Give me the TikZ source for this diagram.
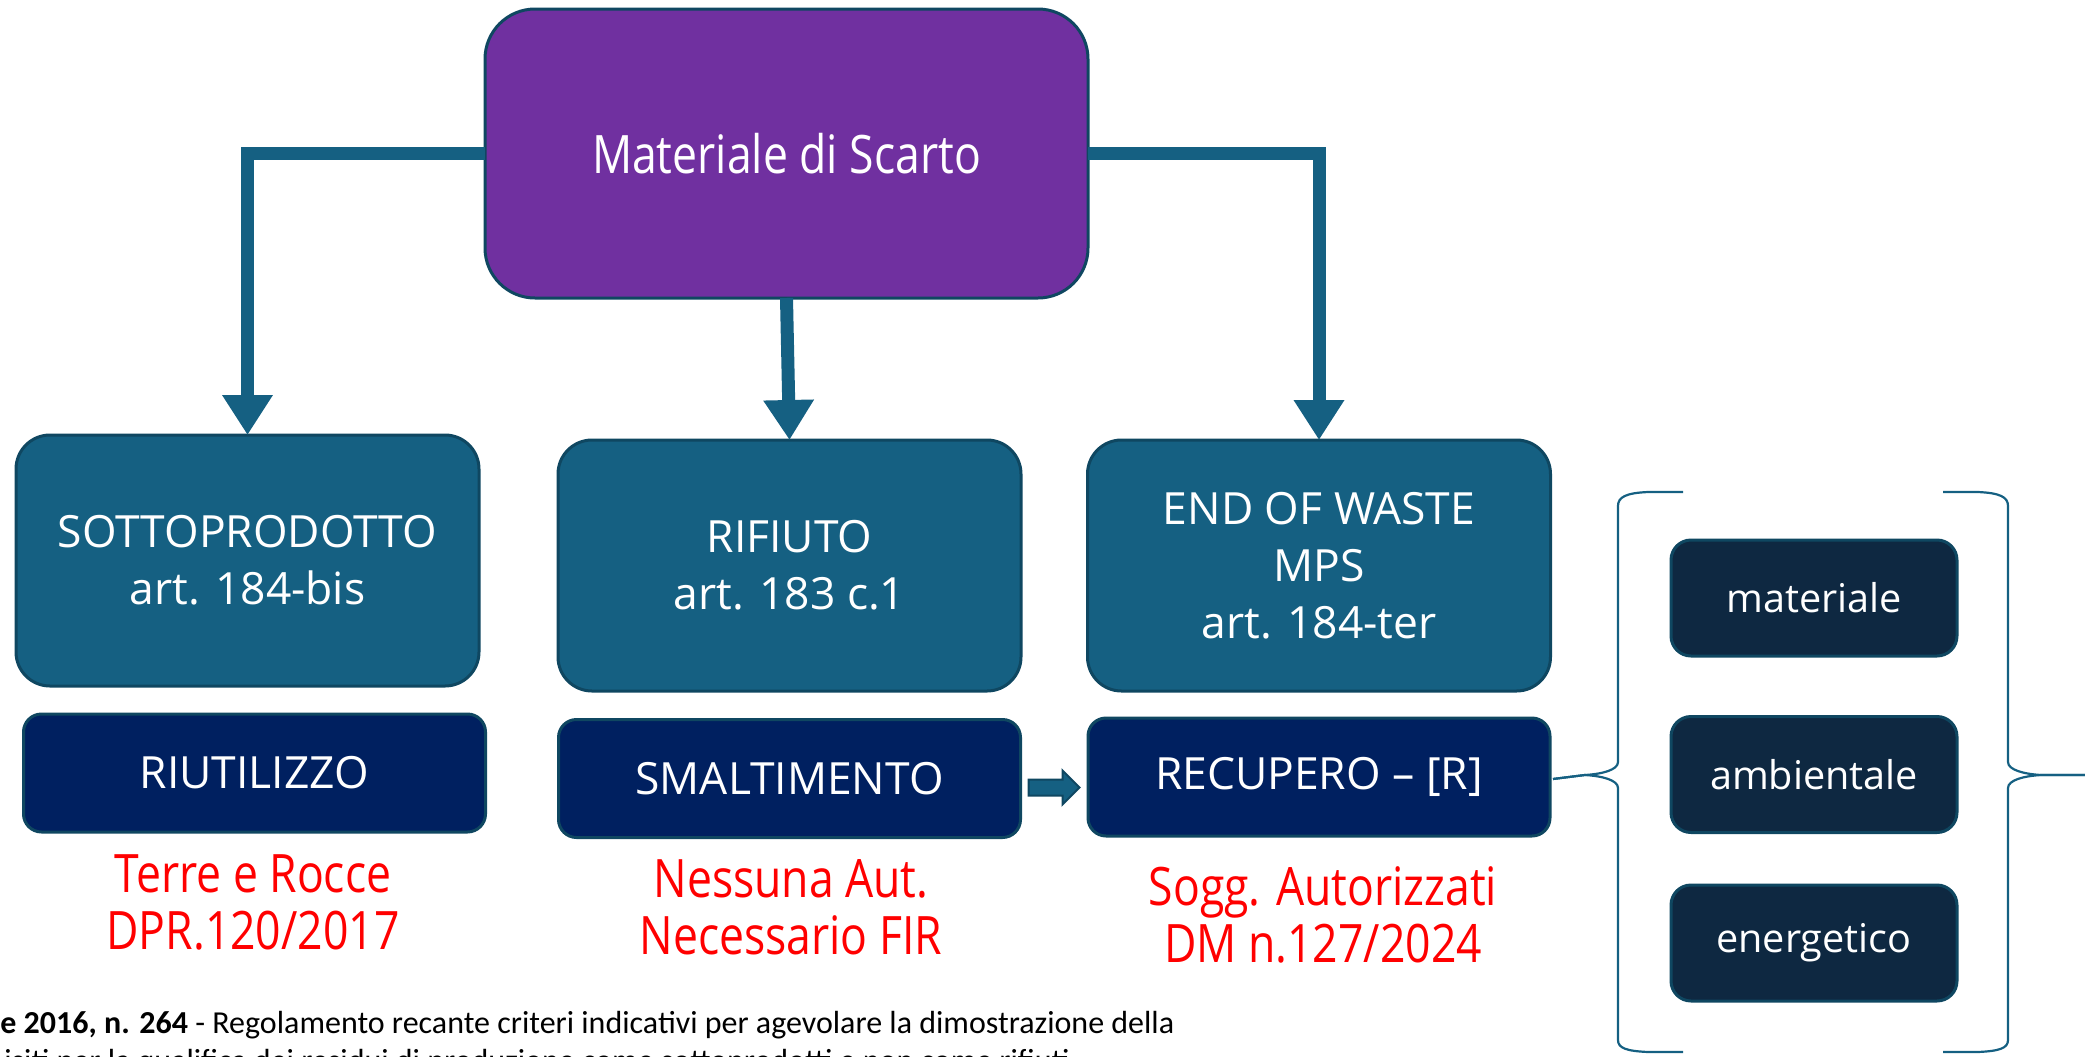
\documentclass[tikz,border=0pt]{standalone}
\usepackage{fontspec}
\setmainfont{Open Sans}
\newfontfamily\calfont{Carlito}
\newfontfamily\narrowfont[FakeStretch=0.84]{Open Sans}
\usetikzlibrary{arrows.meta}
\definecolor{accA}{HTML}{156082}
\definecolor{accDark}{HTML}{0F4761}
\definecolor{purp}{HTML}{7030A0}
\definecolor{navyb}{HTML}{002060}
\definecolor{dkTwo}{HTML}{0E2841}
\definecolor{redtxt}{HTML}{FF0000}
\tikzset{
  boxbase/.style={draw=accDark, line width=1.5pt, inner sep=0pt, outer sep=0pt, text=white, align=center},
  topbox/.style={boxbase, fill=purp, rounded corners=25pt, minimum width=301.5pt, minimum height=144.5pt, font=\narrowfont\fontsize{26.5}{30}\selectfont},
  midbox/.style={boxbase, fill=accA, rounded corners=17pt, minimum width=231.5pt, minimum height=125.5pt, font=\fontsize{22.2}{28.5}\selectfont},
  lowbox/.style={boxbase, fill=navyb, rounded corners=9pt, minimum width=231pt, minimum height=59pt, font=\fontsize{22.2}{28.5}\selectfont},
  smallbox/.style={boxbase, fill=dkTwo, rounded corners=10pt, minimum width=143pt, minimum height=58pt, font=\fontsize{19.8}{24}\selectfont},
  redlabel/.style={text=redtxt, align=center, inner sep=0pt, font=\narrowfont\fontsize{26.5}{28.75}\selectfont},
  flow/.style={draw=accA, line width=6.5pt, -{Triangle[length=20pt,width=24pt]}},
  bracepath/.style={draw=accA, line width=1.1pt},
  blockarrow/.style={fill=accA, draw=accDark, line width=1pt},
}
\begin{document}
\begin{tikzpicture}[x=0.5pt,y=-0.5pt]
\useasboundingbox (0,0) rectangle (2085,1056);
\clip (0,0) rectangle (2085,1056);

\node[topbox] (top) at (786.5,153.5) {Materiale di Scarto};

\node[midbox] (sotto) at (247.5,560.5) {SOTTOPRODOTTO\\art. 184-bis};
\node[midbox] (rif) at (789.5,565.5) {RIFIUTO\\art. 183 c.1};
\node[midbox] (eow) at (1319,565.5) {END OF WASTE\\MPS\\art. 184-ter};

\node[lowbox] (riut) at (254.5,773) {RIUTILIZZO};
\node[lowbox] (smalt) at (789.5,778.5) {SMALTIMENTO};
\node[lowbox] (recup) at (1319,777) {RECUPERO -- [R]};

\node[redlabel] (rl1) at (253,902.5) {Terre e Rocce\\DPR.120/2017};
\node[redlabel] (rl2) at (791,907.5) {Nessuna Aut.\\Necessario FIR};
\node[redlabel] (rl3) at (1323,915) {Sogg. Autorizzati\\DM n.127/2024};

\node[smallbox] (mat) at (1814,598) {materiale};
\node[smallbox] (amb) at (1814,774.5) {ambientale};
\node[smallbox] (ene) at (1814,943) {energetico};

% connectors
\draw[flow] (top.west) -| (sotto.north);
\draw[flow] (top.south) -- (rif.north);
\draw[flow] (top.east) -| (eow.north);

% block arrow between SMALTIMENTO and RECUPERO
\coordinate (ba) at ([xshift=4pt,yshift=-4.5pt]smalt.east);
\draw[blockarrow] (ba) ++(0,-8) -- ++(34,0) -- ++(0,-9) -- ++(17,17) -- ++(-17,17) -- ++(0,-9) -- ++(-34,0) -- cycle;

% braces
\coordinate (lcusp) at ([xshift=1.5pt,yshift=-1pt]recup.east);
\draw[bracepath] (1683,492) -- (1648,492) .. controls (1626,493) and (1618,497) .. (1618,506)
  -- (1618,762) .. controls (1618,770) and (1602,774) .. (1585,775) -- (lcusp);
\draw[bracepath] (lcusp) -- (1585,775) .. controls (1602,776) and (1618,780) .. (1618,788)
  -- (1618,1040) .. controls (1618,1048) and (1626,1051) .. (1648,1052) -- (1683,1052);
\coordinate (rcusp) at (2085,775);
\draw[bracepath] (1943,492) -- (1978,492) .. controls (2000,493) and (2008,497) .. (2008,506)
  -- (2008,762) .. controls (2008,770) and (2024,774) .. (2041,775) -- (rcusp);
\draw[bracepath] (rcusp) -- (2041,775) .. controls (2024,776) and (2008,780) .. (2008,788)
  -- (2008,1040) .. controls (2008,1048) and (2000,1051) .. (1978,1052) -- (1943,1052);

% bottom text
\node[anchor=base west, inner sep=0pt, font=\calfont\fontsize{16}{20}\selectfont] (fn1) at (0,1033)
  {\textbf{e 2016, n. 264} - Regolamento recante criteri indicativi per agevolare la dimostrazione della};
\node[anchor=base west, inner sep=0pt, font=\calfont\fontsize{16}{20}\selectfont] (fn2) at (4,1071)
  {isiti per la qualifica dei residui di produzione come sottoprodotti e non come rifiuti};
\end{tikzpicture}
\end{document}
